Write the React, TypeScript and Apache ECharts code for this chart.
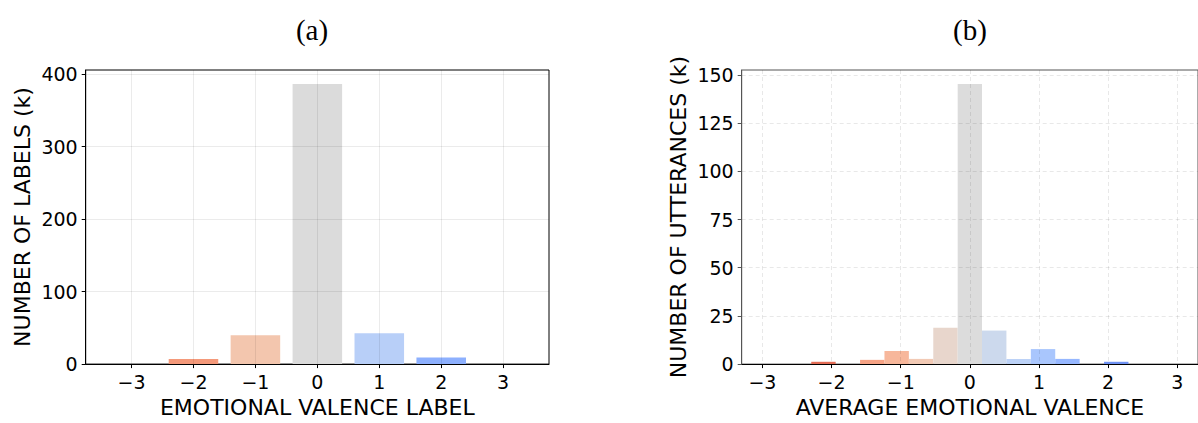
import React, { useEffect, useRef } from "react";
import * as echarts from "echarts";

// (a) emotional valence labels
const labelValues = [-3, -2, -1, 0, 1, 2, 3];
const labelCounts = [0, 7.2, 39.7, 386.5, 42.4, 9.0, 0];
const labelColors = ["#d0473d", "#f4997a", "#f3c6ae", "#dbdbdb", "#b8cff8", "#8db0fe", "#5a78e4"];

// (b) average emotional valence histogram (17 bins over [-3, 3])
const binEdges = [-3, -2.647, -2.294, -1.941, -1.588, -1.235, -0.882, -0.529, -0.176, 0.176, 0.529, 0.882, 1.235, 1.588, 1.941, 2.294, 2.647, 3];
const utteranceCounts = [0, 0, 1.2, 0, 2.2, 6.8, 2.7, 18.9, 145.3, 17.4, 2.7, 7.8, 2.7, 0, 1.2, 0, 0];
const binColors = [
  "#b40426", "#cc3f3a", "#e36c55", "#ee8468", "#f6a385", "#f7b79b", "#f2cab5", "#e8d6cc", "#dcdcdc",
  "#ccd9ed", "#bcd2f7", "#a9c6fd", "#96b7ff", "#7fa0f8", "#6f92f3", "#5570df", "#3b4cc0",
];

const xTicks = [-3, -2, -1, 0, 1, 2, 3];
const leftYTicks = [0, 100, 200, 300, 400];
const rightYTicks = [0, 25, 50, 75, 100, 125, 150];

const FONT = "DejaVu Sans";
const fmt = (v: number) => (v < 0 ? "\u2212" + Math.abs(v) : String(v));

export default function App() {
  const ref = useRef<HTMLDivElement>(null);
  useEffect(() => {
    if (!ref.current) return;
    const chart = echarts.init(ref.current, undefined, { renderer: "svg" });
    const tickLabel = { fontFamily: FONT, fontSize: 19, color: "#000" };
    const nameStyle = { fontFamily: FONT, fontSize: 22, color: "#000" };
    chart.setOption({
      animation: false,
      backgroundColor: "#fff",
      grid: [
        { left: 85.7, right: 649, top: 70, bottom: 52.7, show: true, borderColor: "#000", borderWidth: 1, backgroundColor: "transparent" },
        { left: 741.7, right: -7, top: 70, bottom: 52.7, show: true, borderColor: "#555", borderWidth: 1, backgroundColor: "transparent" },
      ],
      graphic: [
        { type: "text", x: 312, y: 30, style: { text: "(a)", font: '29px "Liberation Serif"', fill: "#000", textAlign: "center", textVerticalAlign: "middle" } },
        { type: "text", x: 970, y: 30, style: { text: "(b)", font: '29px "Liberation Serif"', fill: "#000", textAlign: "center", textVerticalAlign: "middle" } },
      ],
      xAxis: [
        {
          type: "value", gridIndex: 0, min: -3.74, max: 3.74, z: 5,
          name: "EMOTIONAL VALENCE LABEL", nameLocation: "middle", nameGap: 31, nameTextStyle: nameStyle,
          axisLine: { show: true, onZero: false, lineStyle: { color: "#000", width: 1 } },
          axisTick: { show: true, length: 4, customValues: xTicks, lineStyle: { color: "#000" } },
          axisLabel: { customValues: xTicks, formatter: fmt, margin: 8, ...tickLabel },
          splitLine: { show: true, lineStyle: { color: "rgba(0,0,0,0.08)", width: 1 } },
        },
        {
          type: "value", gridIndex: 1, min: -3.3, max: 3.3, z: 5,
          name: "AVERAGE EMOTIONAL VALENCE", nameLocation: "middle", nameGap: 31, nameTextStyle: nameStyle,
          axisLine: { show: true, onZero: false, lineStyle: { color: "#000", width: 1 } },
          axisTick: { show: true, length: 4, customValues: xTicks, lineStyle: { color: "#000" } },
          axisLabel: { customValues: xTicks, formatter: fmt, margin: 8, ...tickLabel },
          splitLine: { show: true, lineStyle: { color: "rgba(0,0,0,0.09)", width: 1, type: [4, 3] } },
        },
      ],
      yAxis: [
        {
          type: "value", gridIndex: 0, min: 0, max: 405.8, z: 5,
          name: "NUMBER OF LABELS (k)", nameLocation: "middle", nameGap: 52, nameRotate: 90, nameTextStyle: nameStyle,
          axisLine: { show: true, onZero: false, lineStyle: { color: "#000", width: 1 } },
          axisTick: { show: true, length: 4, customValues: leftYTicks, lineStyle: { color: "#000" } },
          axisLabel: { customValues: leftYTicks, formatter: fmt, margin: 8, ...tickLabel },
          splitLine: { show: true, lineStyle: { color: "rgba(0,0,0,0.08)", width: 1 } },
        },
        {
          type: "value", gridIndex: 1, min: 0, max: 152.6, z: 5,
          name: "NUMBER OF UTTERANCES (k)", nameLocation: "middle", nameGap: 52, nameRotate: 90, nameTextStyle: nameStyle,
          axisLine: { show: true, onZero: false, lineStyle: { color: "#555", width: 1 } },
          axisTick: { show: true, length: 4, customValues: rightYTicks, lineStyle: { color: "#555" } },
          axisLabel: { customValues: rightYTicks, formatter: fmt, margin: 8, ...tickLabel },
          splitLine: { show: true, lineStyle: { color: "rgba(0,0,0,0.09)", width: 1, type: [4, 3] } },
        },
      ],
      series: [
        {
          type: "custom", xAxisIndex: 0, yAxisIndex: 0,
          data: labelValues.map((v, i) => [v, labelCounts[i]]),
          encode: { x: 0, y: 1 },
          renderItem: (params: any, api: any) => {
            const x = api.value(0);
            const y = api.value(1);
            const p0 = api.coord([x - 0.4, y]);
            const p1 = api.coord([x + 0.4, 0]);
            return {
              type: "rect",
              shape: { x: p0[0], y: p0[1], width: p1[0] - p0[0], height: p1[1] - p0[1] },
              style: { fill: labelColors[params.dataIndex] },
            };
          },
        },
        {
          type: "custom", xAxisIndex: 1, yAxisIndex: 1,
          data: utteranceCounts.map((c, i) => [binEdges[i], binEdges[i + 1], c]),
          encode: { x: [0, 1], y: 2 },
          renderItem: (params: any, api: any) => {
            const p0 = api.coord([api.value(0), api.value(2)]);
            const p1 = api.coord([api.value(1), 0]);
            return {
              type: "rect",
              shape: { x: p0[0], y: p0[1], width: p1[0] - p0[0], height: p1[1] - p0[1] },
              style: { fill: binColors[params.dataIndex] },
            };
          },
        },
      ],
    });
    return () => chart.dispose();
  }, []);
  return <div ref={ref} style={{ position: "absolute", left: 0, top: 0, width: 1198, height: 423 }} />;
}
